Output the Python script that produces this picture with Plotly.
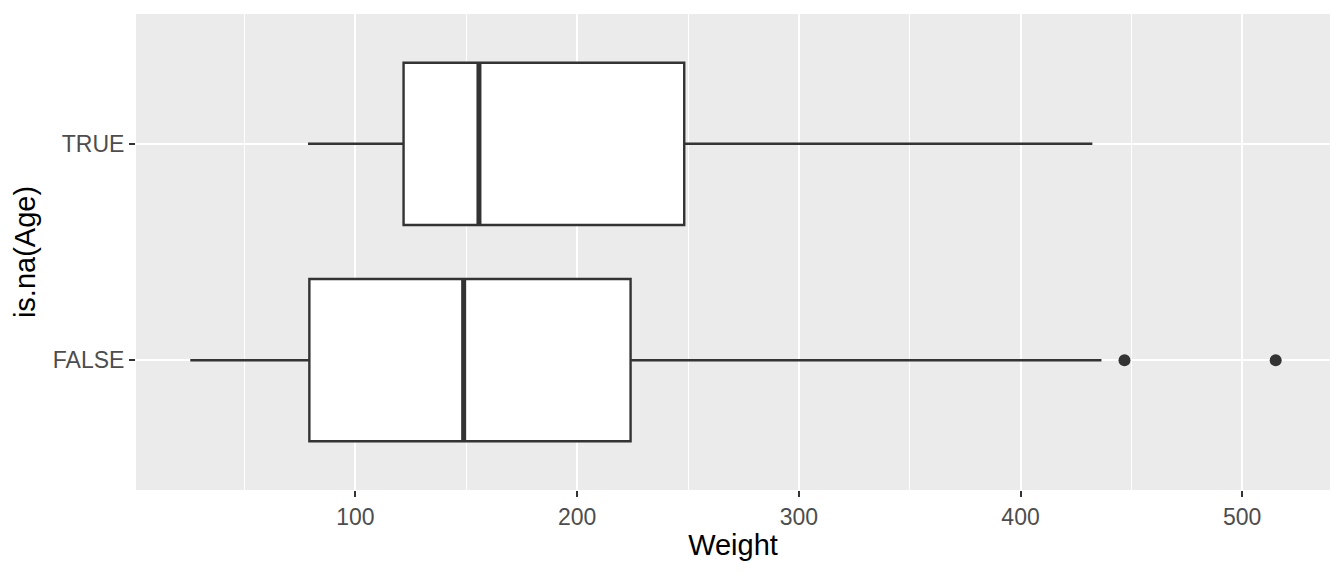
import plotly.graph_objects as go

# Data
groups = ["FALSE", "TRUE"]
positions = [1, 2]
lower_whisker = [25.5, 78.6]
q1 = [79.2, 121.7]
median = [148.8, 155.7]
q3 = [224.1, 248.3]
upper_whisker = [436.5, 432.4]
outlier_x = [446.9, 515.1]
outlier_group = [1, 1]

x_ticks = [100, 200, 300, 400, 500]
box_width = 0.75

LINE = "#333333"

fig = go.Figure()

for i, g in enumerate(groups):
    fig.add_trace(go.Box(
        y=[positions[i]],
        q1=[q1[i]], median=[median[i]], q3=[q3[i]],
        lowerfence=[lower_whisker[i]], upperfence=[upper_whisker[i]],
        orientation="h", width=box_width, whiskerwidth=0,
        fillcolor="white", line=dict(color=LINE, width=2.4),
        boxpoints=False, showlegend=False, name=g, hoverinfo="skip",
    ))
    # thicker median line (ggplot fatten)
    fig.add_trace(go.Scatter(
        x=[median[i], median[i]],
        y=[positions[i] - box_width / 2, positions[i] + box_width / 2],
        mode="lines", line=dict(color=LINE, width=5),
        showlegend=False, hoverinfo="skip",
    ))

fig.add_trace(go.Scatter(
    x=outlier_x, y=outlier_group, mode="markers",
    marker=dict(color=LINE, size=12), showlegend=False, hoverinfo="skip",
))

fig.update_layout(
    width=1328, height=560,
    margin=dict(l=128, r=6, t=6, b=78),
    paper_bgcolor="white", plot_bgcolor="#EBEBEB",
    font=dict(family="Liberation Sans, Arial, sans-serif"),
)

fig.update_xaxes(
    range=[1.0, 539.6], tickvals=x_ticks, zeroline=False,
    showgrid=True, gridcolor="white", gridwidth=2,
    minor=dict(dtick=50, tick0=0, showgrid=True, gridcolor="white", gridwidth=1, ticks=""),
    ticks="outside", ticklen=6, tickwidth=2, tickcolor=LINE,
    tickfont=dict(size=23, color="#4D4D4D"),
    title=dict(text="Weight", font=dict(size=29, color="black"), standoff=6),
    showline=False,
)
fig.update_yaxes(
    range=[0.4, 2.6], tickvals=positions, ticktext=groups, zeroline=False,
    showgrid=True, gridcolor="white", gridwidth=2,
    ticks="outside", ticklen=6, tickwidth=2, tickcolor=LINE,
    tickfont=dict(size=23, color="#4D4D4D"),
    title=dict(text="is.na(Age)", font=dict(size=29, color="black"), standoff=8),
    showline=False,
)

fig.write_html("out.html")
